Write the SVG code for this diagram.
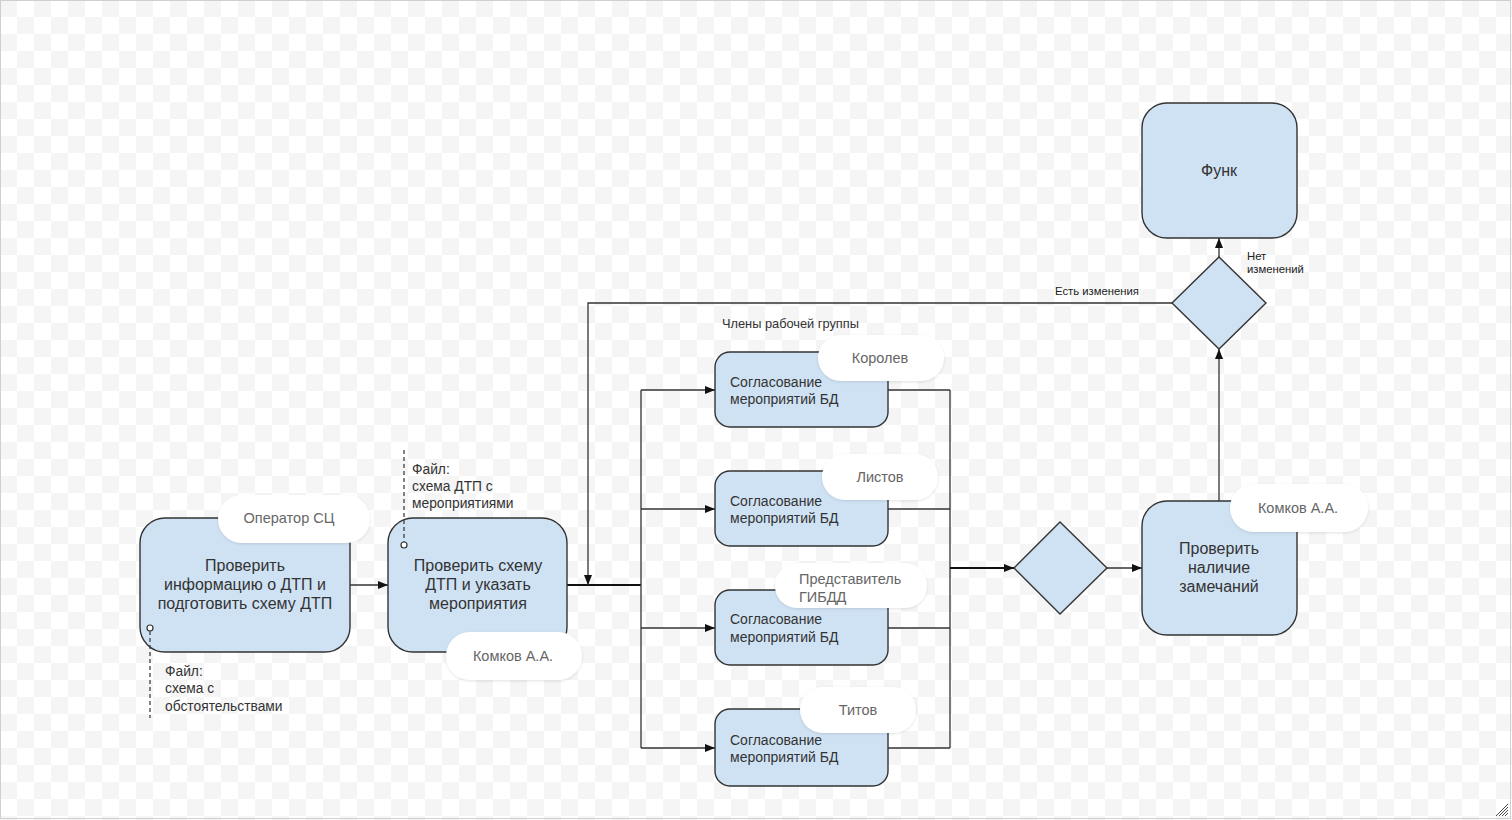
<svg xmlns="http://www.w3.org/2000/svg" width="1512" height="820" viewBox="0 0 1512 820">
<defs>
<pattern id="chk" width="34" height="34" patternUnits="userSpaceOnUse">
<rect width="34" height="34" fill="#ffffff"/>
<rect width="17" height="17" fill="#f5f5f5"/>
<rect x="17" y="17" width="17" height="17" fill="#f5f5f5"/>
</pattern>
<marker id="ah" markerWidth="10" markerHeight="8" refX="10" refY="4" orient="auto" markerUnits="userSpaceOnUse">
<path d="M0,0 L10,4 L0,8 Z" fill="#111"/>
</marker>
<filter id="sh" x="-10%" y="-20%" width="120%" height="140%">
<feGaussianBlur in="SourceAlpha" stdDeviation="1.5"/>
<feOffset dx="0" dy="1"/>
<feComponentTransfer><feFuncA type="linear" slope="0.12"/></feComponentTransfer>
<feMerge><feMergeNode/><feMergeNode in="SourceGraphic"/></feMerge>
</filter>
</defs>
<style>
.nd{fill:#cfe2f3;stroke:#333;stroke-width:1.4}
.t{font-family:"Liberation Sans",Arial,sans-serif;fill:#333}
.big{font-size:16px}
.mid{font-size:14px}
.sm{font-size:13.8px}
.xs{font-size:11.3px;fill:#222}
.bub{fill:#fff;filter:url(#sh)}
.bt{font-family:"Liberation Sans",Arial,sans-serif;font-size:14.5px;fill:#666}
.ln{fill:none;stroke:#333;stroke-width:1.3}
.th{fill:none;stroke:#111;stroke-width:2}
.ds{fill:none;stroke:#333;stroke-width:1.2;stroke-dasharray:4,3}
</style>
<rect width="1512" height="820" fill="url(#chk)"/>
<rect x="0.5" y="0.5" width="1510" height="818" fill="none" stroke="#cfcfcf"/>
<g id="grip" stroke="#444" stroke-width="1">
<line x1="1496" y1="816" x2="1508" y2="804"/>
<line x1="1499" y1="816" x2="1508" y2="807"/>
<line x1="1502" y1="816" x2="1508" y2="810"/>
<line x1="1505" y1="816" x2="1508" y2="813"/>
</g>

<g id="connectors">
<line class="ln" x1="350" y1="585" x2="388" y2="585" marker-end="url(#ah)"/>
<line class="th" x1="567" y1="585" x2="641" y2="585"/>
<line class="ln" x1="641" y1="390" x2="641" y2="748"/>
<line class="ln" x1="641" y1="390" x2="715" y2="390" marker-end="url(#ah)"/>
<line class="ln" x1="641" y1="509" x2="715" y2="509" marker-end="url(#ah)"/>
<line class="ln" x1="641" y1="628" x2="715" y2="628" marker-end="url(#ah)"/>
<line class="ln" x1="641" y1="748" x2="715" y2="748" marker-end="url(#ah)"/>
<line class="ln" x1="888" y1="390" x2="950" y2="390"/>
<line class="ln" x1="888" y1="509" x2="950" y2="509"/>
<line class="ln" x1="888" y1="628" x2="950" y2="628"/>
<line class="ln" x1="888" y1="748" x2="950" y2="748"/>
<line class="ln" x1="950" y1="390" x2="950" y2="748"/>
<line class="th" x1="950" y1="568" x2="1014" y2="568" marker-end="url(#ah)"/>
<line class="ln" x1="1107" y1="568" x2="1142" y2="568" marker-end="url(#ah)"/>
<line class="ln" x1="1219" y1="501" x2="1219" y2="349" marker-end="url(#ah)"/>
<line class="ln" x1="1219" y1="257" x2="1219" y2="238" marker-end="url(#ah)"/>
<polyline class="ln" points="1172,303 588,303 588,585" marker-end="url(#ah)"/>
<text class="t xs" x="1055" y="295">Есть изменения</text>
<text class="t xs" x="1247" y="260">Нет</text>
<text class="t xs" x="1247" y="273">изменений</text>
</g>

<g id="n1">
<rect class="nd" x="140" y="518" width="210" height="134" rx="25"/>
<text class="t big" text-anchor="middle" x="245" y="571">Проверить</text>
<text class="t big" text-anchor="middle" x="245" y="590">информацию о ДТП и</text>
<text class="t big" text-anchor="middle" x="245" y="609">подготовить схему ДТП</text>
<rect class="bub" x="218" y="495" width="152" height="48" rx="24"/>
<text class="bt" text-anchor="middle" x="289" y="523">Оператор СЦ</text>
</g>

<g id="file1">
<line class="ds" x1="150" y1="631" x2="150" y2="718"/>
<circle cx="150" cy="628" r="3" fill="#fff" stroke="#333" stroke-width="1.2"/>
<text class="t sm" x="165" y="676">Файл:</text>
<text class="t sm" x="165" y="693">схема с</text>
<text class="t sm" x="165" y="711">обстоятельствами</text>
</g>

<g id="n2">
<rect class="nd" x="388" y="518" width="179" height="134" rx="25"/>
<text class="t big" text-anchor="middle" x="478" y="571">Проверить схему</text>
<text class="t big" text-anchor="middle" x="478" y="590">ДТП и указать</text>
<text class="t big" text-anchor="middle" x="478" y="609">мероприятия</text>
<rect class="bub" x="446" y="632" width="136" height="48" rx="24"/>
<text class="bt" text-anchor="middle" x="513" y="661">Комков А.А.</text>
</g>

<g id="file2">
<line class="ds" x1="404" y1="450" x2="404" y2="542"/>
<circle cx="404" cy="545" r="3" fill="#fff" stroke="#333" stroke-width="1.2"/>
<text class="t sm" x="412" y="474">Файл:</text>
<text class="t sm" x="412" y="491">схема ДТП с</text>
<text class="t sm" x="412" y="508">мероприятиями</text>
</g>

<text class="t" font-size="12.8" x="722" y="328" fill="#222">Члены рабочей группы</text>

<g id="n3">
<rect class="nd" x="715" y="352" width="173" height="75" rx="15"/>
<text class="t mid" x="730" y="387">Согласование</text>
<text class="t mid" x="730" y="404">мероприятий БД</text>
<rect class="bub" x="818" y="335" width="126" height="46" rx="23"/>
<text class="bt" text-anchor="middle" x="880" y="363">Королев</text>
</g>

<g id="n4">
<rect class="nd" x="715" y="471" width="173" height="75" rx="15"/>
<text class="t mid" x="730" y="506">Согласование</text>
<text class="t mid" x="730" y="523">мероприятий БД</text>
<rect class="bub" x="822" y="454" width="116" height="46" rx="23"/>
<text class="bt" text-anchor="middle" x="880" y="482">Листов</text>
</g>

<g id="n5">
<rect class="nd" x="715" y="590" width="173" height="75" rx="15"/>
<text class="t mid" x="730" y="624">Согласование</text>
<text class="t mid" x="730" y="642">мероприятий БД</text>
<rect class="bub" x="775" y="563" width="152" height="45" rx="22"/>
<text class="bt" x="799" y="584">Представитель</text>
<text class="bt" x="799" y="602">ГИБДД</text>
</g>

<g id="n6">
<rect class="nd" x="715" y="709" width="173" height="77" rx="15"/>
<text class="t mid" x="730" y="745">Согласование</text>
<text class="t mid" x="730" y="762">мероприятий БД</text>
<rect class="bub" x="800" y="687" width="116" height="46" rx="23"/>
<text class="bt" text-anchor="middle" x="858" y="715">Титов</text>
</g>

<g id="d1">
<polygon class="nd" points="1060,522 1107,568 1060,614 1014,568"/>
</g>

<g id="n7">
<rect class="nd" x="1142" y="501" width="155" height="134" rx="25"/>
<text class="t big" text-anchor="middle" x="1219" y="554">Проверить</text>
<text class="t big" text-anchor="middle" x="1219" y="573">наличие</text>
<text class="t big" text-anchor="middle" x="1219" y="592">замечаний</text>
<rect class="bub" x="1230" y="484" width="138" height="48" rx="24"/>
<text class="bt" text-anchor="middle" x="1298" y="513">Комков А.А.</text>
</g>

<g id="d2">
<polygon class="nd" points="1219,257 1266,303 1219,349 1172,303"/>
</g>

<g id="n8">
<rect class="nd" x="1142" y="103" width="155" height="135" rx="25"/>
<text class="t big" text-anchor="middle" x="1219" y="176">Функ</text>
</g>
</svg>
